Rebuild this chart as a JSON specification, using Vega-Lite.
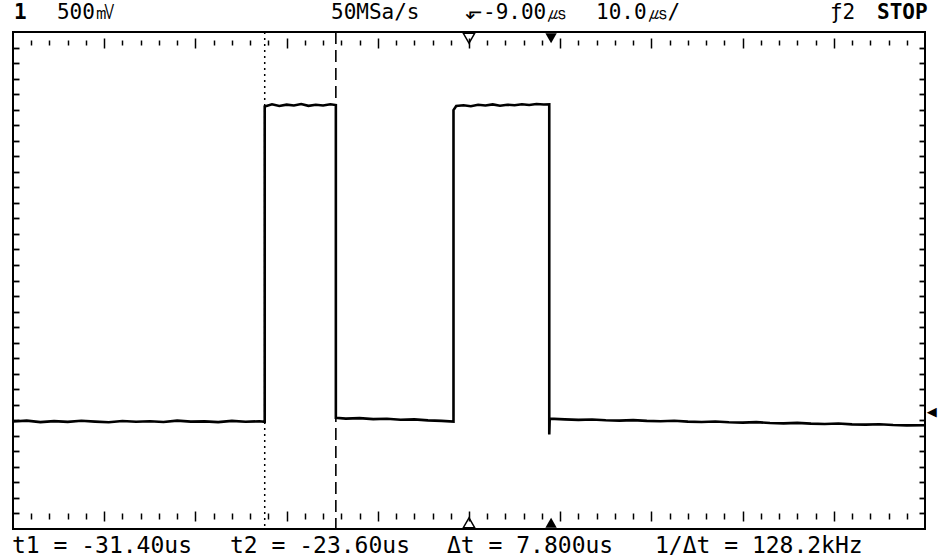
{
  "$schema": "https://vega.github.io/schema/vega-lite/v6.json",
  "width": 912,
  "height": 497,
  "autosize": {"type": "none"},
  "padding": {"left": 13, "top": 32, "right": 20, "bottom": 31},
  "background": "white",
  "config": {
    "view": {"stroke": "black", "strokeWidth": 2},
    "axis": {"grid": false, "labels": false, "title": null, "domain": false, "tickColor": "black"}
  },
  "datasets": {
    "trace": [
      {"i": 1, "t": -59, "v": -1.135}, {"i": 2, "t": -57.5, "v": -1.128}, {"i": 3, "t": -56, "v": -1.140}, {"i": 4, "t": -54.5, "v": -1.132},
      {"i": 5, "t": -53, "v": -1.138}, {"i": 6, "t": -51.5, "v": -1.129}, {"i": 7, "t": -50, "v": -1.136}, {"i": 8, "t": -48.5, "v": -1.141},
      {"i": 9, "t": -47, "v": -1.131}, {"i": 10, "t": -45.5, "v": -1.137}, {"i": 11, "t": -44, "v": -1.133}, {"i": 12, "t": -42.5, "v": -1.139},
      {"i": 13, "t": -41, "v": -1.128}, {"i": 14, "t": -39.5, "v": -1.136}, {"i": 15, "t": -38, "v": -1.134}, {"i": 16, "t": -36.5, "v": -1.140},
      {"i": 17, "t": -35, "v": -1.130}, {"i": 18, "t": -33.5, "v": -1.137}, {"i": 19, "t": -32, "v": -1.133}, {"i": 20, "t": -31.4, "v": -1.138},
      {"i": 21, "t": -31.4, "v": 1.400}, {"i": 22, "t": -30.6, "v": 1.418}, {"i": 23, "t": -29.8, "v": 1.405}, {"i": 24, "t": -29.0, "v": 1.415},
      {"i": 25, "t": -28.2, "v": 1.408}, {"i": 26, "t": -27.4, "v": 1.420}, {"i": 27, "t": -26.6, "v": 1.406}, {"i": 28, "t": -25.8, "v": 1.414},
      {"i": 29, "t": -25.0, "v": 1.409}, {"i": 30, "t": -24.2, "v": 1.418}, {"i": 31, "t": -23.6, "v": 1.412},
      {"i": 32, "t": -23.6, "v": -1.105}, {"i": 33, "t": -22.5, "v": -1.112}, {"i": 34, "t": -21, "v": -1.108}, {"i": 35, "t": -19.5, "v": -1.116},
      {"i": 36, "t": -18, "v": -1.113}, {"i": 37, "t": -16.5, "v": -1.121}, {"i": 38, "t": -15, "v": -1.118}, {"i": 39, "t": -13.5, "v": -1.126},
      {"i": 40, "t": -12, "v": -1.130}, {"i": 41, "t": -10.7, "v": -1.135},
      {"i": 42, "t": -10.7, "v": 1.372}, {"i": 43, "t": -10.4, "v": 1.405}, {"i": 44, "t": -9.6, "v": 1.410}, {"i": 45, "t": -8.8, "v": 1.403},
      {"i": 46, "t": -8.0, "v": 1.414}, {"i": 47, "t": -7.2, "v": 1.409}, {"i": 48, "t": -6.4, "v": 1.417}, {"i": 49, "t": -5.6, "v": 1.407},
      {"i": 50, "t": -4.8, "v": 1.415}, {"i": 51, "t": -4.0, "v": 1.411}, {"i": 52, "t": -3.2, "v": 1.418}, {"i": 53, "t": -2.4, "v": 1.413},
      {"i": 54, "t": -1.6, "v": 1.420}, {"i": 55, "t": -0.8, "v": 1.416}, {"i": 56, "t": -0.2, "v": 1.418},
      {"i": 57, "t": -0.2, "v": -1.240}, {"i": 58, "t": -0.15, "v": -1.112},
      {"i": 59, "t": 1.5, "v": -1.118}, {"i": 60, "t": 3, "v": -1.122}, {"i": 61, "t": 4.5, "v": -1.119}, {"i": 62, "t": 6, "v": -1.125},
      {"i": 63, "t": 7.5, "v": -1.128}, {"i": 64, "t": 9, "v": -1.124}, {"i": 65, "t": 10.5, "v": -1.130}, {"i": 66, "t": 12, "v": -1.133},
      {"i": 67, "t": 13.5, "v": -1.129}, {"i": 68, "t": 15, "v": -1.136}, {"i": 69, "t": 16.5, "v": -1.139}, {"i": 70, "t": 18, "v": -1.135},
      {"i": 71, "t": 19.5, "v": -1.141}, {"i": 72, "t": 21, "v": -1.144}, {"i": 73, "t": 22.5, "v": -1.140}, {"i": 74, "t": 24, "v": -1.147},
      {"i": 75, "t": 25.5, "v": -1.150}, {"i": 76, "t": 27, "v": -1.146}, {"i": 77, "t": 28.5, "v": -1.152}, {"i": 78, "t": 30, "v": -1.155},
      {"i": 79, "t": 31.5, "v": -1.151}, {"i": 80, "t": 33, "v": -1.158}, {"i": 81, "t": 34.5, "v": -1.160}, {"i": 82, "t": 36, "v": -1.157},
      {"i": 83, "t": 37.5, "v": -1.163}, {"i": 84, "t": 39, "v": -1.166}, {"i": 85, "t": 41, "v": -1.165}
    ],
    "header": [
      {"label": "500㎷", "t": -54.18, "v": 2.105},
      {"label": "50MSa/s", "t": -24.13, "v": 2.105},
      {"label": "⬐-9.00㎲", "t": -9.44, "v": 2.105},
      {"label": "10.0㎲/", "t": 4.93, "v": 2.105},
      {"label": "ƒ2", "t": 30.58, "v": 2.105}
    ],
    "headerBold": [
      {"label": "1", "t": -58.89, "v": 2.105},
      {"label": "STOP", "t": 35.74, "v": 2.105}
    ],
    "footer": [
      {"label": "t1 = -31.40us", "t": -59.11, "v": -2.193},
      {"label": "t2 = -23.60us", "t": -35.21, "v": -2.193},
      {"label": "Δt = 7.800us", "t": -11.41, "v": -2.193},
      {"label": "1/Δt = 128.2kHz", "t": 11.39, "v": -2.193}
    ],
    "markers": [
      {"t": -9, "v": 1.95, "side": "top", "fill": "hollow"},
      {"t": 0, "v": 1.95, "side": "top", "fill": "solid"},
      {"t": -9, "v": -1.95, "side": "bottom", "fill": "hollow"},
      {"t": 0, "v": -1.95, "side": "bottom", "fill": "solid"}
    ]
  },
  "layer": [
    {
      "data": {"name": "trace"},
      "mark": {"type": "line", "color": "black", "strokeWidth": 2.6, "interpolate": "linear"},
      "encoding": {
        "x": {"field": "t", "type": "quantitative", "scale": {"domain": [-59, 41], "nice": false, "zero": false},
              "axis": {"orient": "top", "offset": -8, "tickSize": -5, "tickWidth": 1.5,
                       "values": [-57,-55,-53,-51,-47,-45,-43,-41,-37,-35,-33,-31,-27,-25,-23,-21,-17,-15,-13,-11,-7,-5,-3,-1,3,5,7,9,13,15,17,19,23,25,27,29,33,35,37,39]}},
        "y": {"field": "v", "type": "quantitative", "scale": {"domain": [-2, 2], "nice": false, "zero": false},
              "axis": {"orient": "left", "tickSize": -6, "tickWidth": 1.8,
                       "values": [-1.875,-1.75,-1.625,-1.5,-1.375,-1.25,-1.125,-1,-0.875,-0.75,-0.625,-0.5,-0.375,-0.25,-0.125,0,0.125,0.25,0.375,0.5,0.625,0.75,0.875,1,1.125,1.25,1.375,1.5,1.625,1.75,1.875]}},
        "order": {"field": "i", "type": "quantitative"}
      }
    },
    {
      "data": {"values": [{"cursor": "t1", "t": -31.4}]},
      "mark": {"type": "rule", "color": "black", "strokeWidth": 1.5, "strokeDash": [2, 4]},
      "encoding": {
        "x": {"field": "t", "type": "quantitative",
              "axis": {"orient": "bottom", "offset": -10, "tickSize": -6, "tickWidth": 1.5,
                       "values": [-57,-55,-53,-51,-47,-45,-43,-41,-37,-35,-33,-31,-27,-25,-23,-21,-17,-15,-13,-11,-7,-5,-3,-1,3,5,7,9,13,15,17,19,23,25,27,29,33,35,37,39]}}
      }
    },
    {
      "data": {"values": [{"cursor": "t2", "t": -23.6}]},
      "mark": {"type": "rule", "color": "black", "strokeWidth": 1.6, "strokeDash": [12, 6]},
      "encoding": {
        "x": {"field": "t", "type": "quantitative",
              "axis": {"orient": "top", "offset": -6, "tickSize": -10, "tickWidth": 1.5,
                       "values": [-49,-39,-29,-19,-9,1,11,21,31]}}
      }
    },
    {
      "data": {"name": "markers"},
      "transform": [{"filter": "datum.fill === 'hollow'"}],
      "mark": {"type": "point", "filled": false, "color": "black", "strokeWidth": 1.5, "size": 130, "opacity": 1},
      "encoding": {
        "x": {"field": "t", "type": "quantitative",
              "axis": {"orient": "bottom", "offset": -8, "tickSize": -10, "tickWidth": 1.5,
                       "values": [-49,-39,-29,-19,-9,1,11,21,31]}},
        "y": {"field": "v", "type": "quantitative",
              "axis": {"orient": "right", "tickSize": -6, "tickWidth": 1.8,
                       "values": [-1.875,-1.75,-1.625,-1.5,-1.375,-1.25,-1.125,-1,-0.875,-0.75,-0.625,-0.5,-0.375,-0.25,-0.125,0,0.125,0.25,0.375,0.5,0.625,0.75,0.875,1,1.125,1.25,1.375,1.5,1.625,1.75,1.875]}},
        "shape": {"field": "side", "type": "nominal", "scale": {"domain": ["top", "bottom"], "range": ["triangle-down", "triangle-up"]}, "legend": null}
      }
    },
    {
      "data": {"name": "markers"},
      "transform": [{"filter": "datum.fill === 'solid'"}],
      "mark": {"type": "point", "filled": true, "color": "black", "size": 130, "opacity": 1},
      "encoding": {
        "x": {"field": "t", "type": "quantitative", "axis": null},
        "y": {"field": "v", "type": "quantitative", "axis": null},
        "shape": {"field": "side", "type": "nominal", "scale": {"domain": ["top", "bottom"], "range": ["triangle-down", "triangle-up"]}, "legend": null}
      }
    },
    {
      "data": {"name": "header"},
      "mark": {"type": "text", "align": "left", "baseline": "alphabetic", "font": "DejaVu Sans Mono", "fontSize": 21, "color": "black"},
      "encoding": {
        "x": {"field": "t", "type": "quantitative", "axis": null},
        "y": {"field": "v", "type": "quantitative", "axis": null},
        "text": {"field": "label"}
      }
    },
    {
      "data": {"name": "headerBold"},
      "mark": {"type": "text", "align": "left", "baseline": "alphabetic", "font": "DejaVu Sans Mono", "fontSize": 21, "fontWeight": "bold", "color": "black"},
      "encoding": {
        "x": {"field": "t", "type": "quantitative", "axis": null},
        "y": {"field": "v", "type": "quantitative", "axis": null},
        "text": {"field": "label"}
      }
    },
    {
      "data": {"name": "footer"},
      "mark": {"type": "text", "align": "left", "baseline": "alphabetic", "font": "DejaVu Sans Mono", "fontSize": 23, "color": "black"},
      "encoding": {
        "x": {"field": "t", "type": "quantitative", "axis": null},
        "y": {"field": "v", "type": "quantitative", "axis": null},
        "text": {"field": "label"}
      }
    },
    {
      "data": {"values": [{"label": "◀", "t": 41.2, "v": -1.06}]},
      "mark": {"type": "text", "align": "left", "baseline": "middle", "font": "DejaVu Sans", "fontSize": 13, "color": "black"},
      "encoding": {
        "x": {"field": "t", "type": "quantitative", "axis": null},
        "y": {"field": "v", "type": "quantitative", "axis": null},
        "text": {"field": "label"}
      }
    }
  ],
  "resolve": {"axis": {"x": "independent", "y": "independent"}}
}
